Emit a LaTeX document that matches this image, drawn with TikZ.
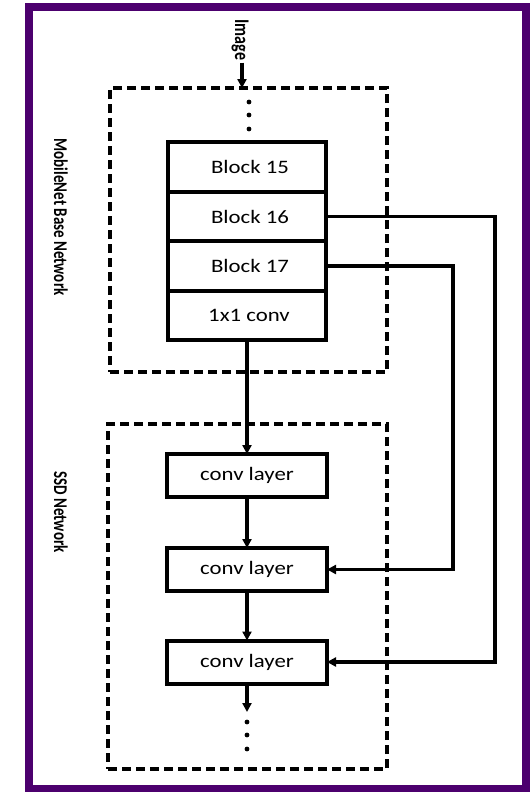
\documentclass[tikz,border=0pt]{standalone}
\usepackage{fontspec}
\setmainfont{Carlito}[FakeStretch=1.2]
\newfontfamily\labelfont{Carlito}
\usetikzlibrary{positioning, arrows.meta}
\definecolor{framepurple}{RGB}{76,0,110}
\tikzset{
	block/.style={draw, line width=3.6pt, minimum width=158pt, minimum height=49.5pt, inner sep=0pt, outer sep=0pt, font=\fontsize{19}{21}\selectfont},
	convbox/.style={draw, line width=4pt, minimum width=160pt, minimum height=43pt, inner sep=0pt, outer sep=0pt, font=\fontsize{19}{21}\selectfont},
	netbox/.style={draw, line width=3.6pt, dash pattern=on 9pt off 5pt, inner sep=0pt, outer sep=0pt},
	flow/.style={-{Triangle[length=9pt, width=9pt]}, line width=3.2pt},
	sidelabel/.style={rotate=-90, inner sep=0pt, font=\labelfont\bfseries\fontsize{15}{17}\selectfont}
}
\newcommand{\tallbox}[1]{\scalebox{1}[1.3]{#1}}
\begin{document}
\begin{tikzpicture}[x=1pt, y=-1pt]
		\useasboundingbox (0, 0) rectangle (531, 792);
		% Frame
		\draw[framepurple, line width=8pt] (29, 7) rectangle (526, 789);
		
		% Side labels
		\node[sidelabel] (lblbase) at (61, 217) {\tallbox{MobileNet Base Network}};
		\node[sidelabel] (lblssd) at (61, 512) {\tallbox{SSD Network}};
		
		% Network boxes
		\node[netbox, minimum width=277pt, minimum height=284pt] (base) at (248.5, 230) {};
		\node[netbox, minimum width=279pt, minimum height=345pt] (ssd) at (247.5, 596.5) {};
		
		% Input
		\node[sidelabel, font=\labelfont\bfseries\fontsize{16}{18}\selectfont] (img) at (240, 40) {\tallbox{Image}};
		\draw[flow] (img.east) ++(2, 2) -- (242, 0 |- base.north);
		\foreach \y in {102, 115, 129}
			\fill (249, \y) circle (2.4pt);
		
		% Blocks of the base network
		\node[block] (b15) at (247, 167) {\hspace{6pt}Block 15};
		\node[block, below=0pt of b15] (b16) {\hspace{6pt}Block 16};
		\node[block, below=0pt of b16] (b17) {\hspace{6pt}Block 17};
		\node[block, below=0pt of b17] (b1x1) {\hspace{4pt}1x1 conv};
		
		% SSD layers
		\node[convbox] (c1) at (247, 475.5) {conv layer};
		\node[convbox] (c2) at (247, 569.5) {conv layer};
		\node[convbox] (c3) at (247, 662) {conv layer};
		\draw[flow] (b1x1) -- (c1);
		\draw[flow] (c1) -- (c2);
		\draw[flow] (c2) -- (c3);
		\coordinate (ssdend) at (247, 712);
		\draw[flow] (c3) -- (ssdend);
		\foreach \y in {722, 735, 749}
			\fill (247, \y) circle (2.4pt);
		
		% Skip connections
		\draw[flow] (b16.east) -- ++(169, 0) |- (c3.east);
		\draw[flow] (b17.east) -- ++(127, 0) |- (c2.east);
	\end{tikzpicture}
\end{document}
